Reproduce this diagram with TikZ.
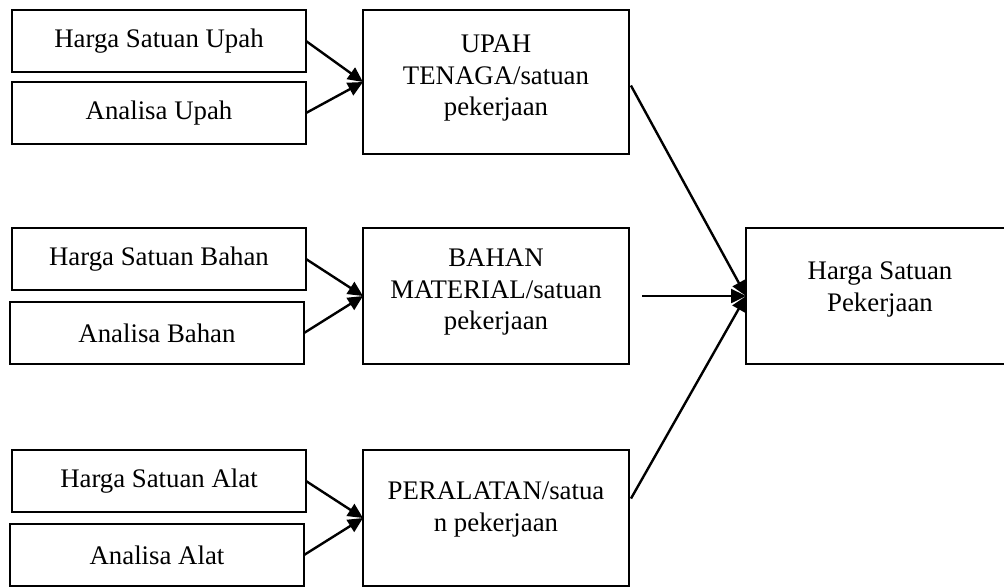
\documentclass[tikz,border=0pt]{standalone}
\usepackage{fontspec}
\setmainfont{Liberation Serif}
\usetikzlibrary{positioning,arrows.meta}

\tikzset{
  smallbox/.style={draw, line width=1.4pt, outer sep=0pt, inner sep=0pt,
    minimum width=147pt, minimum height=31pt},
  bigbox/.style={draw, line width=1.4pt, outer sep=0pt, inner sep=0pt,
    minimum width=133pt, minimum height=68pt, align=center},
  arr/.style={line width=1.2pt, -{Triangle[length=7.5pt,width=7pt]}}
}

\begin{document}
\begin{tikzpicture}[font=\fontsize{13.4}{15.75}\selectfont]

  \useasboundingbox (0,0) rectangle (502pt,-293pt);

  % Define nodes
  \node[smallbox] (hsu) at (79.5pt,-20.5pt) {Harga Satuan Upah};
  \node[smallbox, below=5pt of hsu]           (au)  {Analisa Upah};
  \node[bigbox, right=28.5pt of hsu.north east, anchor=north west,
        minimum height=72pt, text depth=6.5pt] (upah)
        {UPAH\\TENAGA/satuan\\pekerjaan};

  \node[smallbox, below=42pt of au]           (hsb) {Harga Satuan Bahan};
  \node[smallbox, below=6pt of hsb, xshift=-1pt] (ab) {Analisa Bahan};
  \node[bigbox, right=28.5pt of hsb.north east, anchor=north west,
        text depth=6.5pt] (bahan)
        {BAHAN\\MATERIAL/satuan\\pekerjaan};

  \node[smallbox, below=43pt of ab, xshift=1pt] (hsa) {Harga Satuan Alat};
  \node[smallbox, below=6pt of hsa, xshift=-1pt] (aa) {Analisa Alat};
  \node[bigbox, right=28.5pt of hsa.north east, anchor=north west,
        text depth=11.4pt] (alat)
        {PERALATAN/satua\\n pekerjaan};

  \node[bigbox, right=58.5pt of bahan.north east, anchor=north west,
        minimum width=134pt, text depth=9.4pt] (hsp)
        {Harga Satuan\\Pekerjaan};

  % Connect the nodes
  \draw[arr] (hsu.east) -- (upah.west);
  \draw[arr] (au.east) -- (upah.west);
  \draw[arr] (hsb.east) -- (bahan.west);
  \draw[arr] (ab.east) -- (bahan.west);
  \draw[arr] (hsa.east) -- (alat.west);
  \draw[arr] (aa.east) -- (alat.west);

  \draw[arr, shorten <=2pt] (upah.east) -- (hsp.west);
  \draw[arr, shorten <=6.5pt] (bahan.east) -- (hsp.west);
  \draw[arr, shorten <=2pt] ([yshift=8pt]alat.east) -- (hsp.west);

\end{tikzpicture}
\end{document}
